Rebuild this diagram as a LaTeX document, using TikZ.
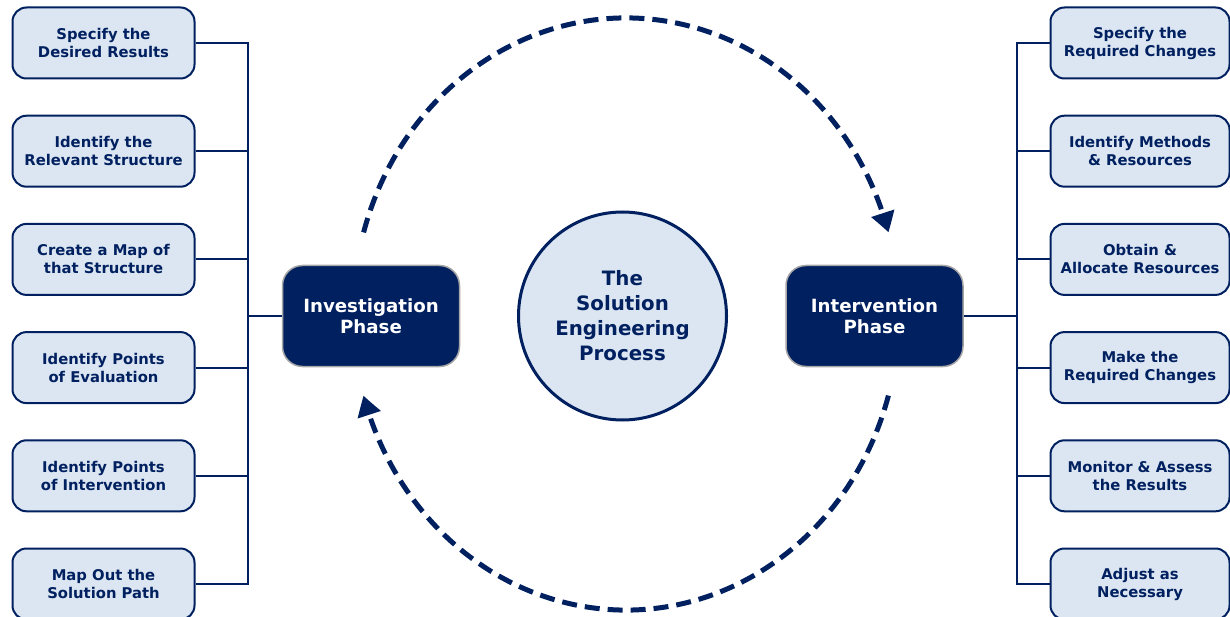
\documentclass[tikz,border=0pt]{standalone}
\usepackage{fontspec}
\setmainfont{DejaVu Sans}
\usetikzlibrary{arrows.meta,bending}
\definecolor{navy}{HTML}{002060}
\definecolor{pale}{HTML}{DCE6F2}
\begin{document}
\begin{tikzpicture}[x=1pt,y=1pt,
  stepbox/.style={draw=navy, line width=2pt, fill=pale, rounded corners=14pt,
    minimum width=182pt, minimum height=71pt, align=center, text=navy,
    font=\fontsize{14.8}{18}\selectfont\bfseries, inner sep=2pt},
  phasebox/.style={draw=gray!70, line width=1.5pt, fill=navy, rounded corners=20pt,
    minimum width=177pt, minimum height=101pt, align=center, text=white,
    font=\fontsize{18.2}{21.5}\selectfont\bfseries},
  hub/.style={circle, draw=navy, line width=3pt, fill=pale, minimum size=208pt,
    align=center, text=navy, font=\fontsize{19.8}{25}\selectfont\bfseries, inner sep=0pt},
  wire/.style={draw=navy, line width=2pt},
  cyclearrow/.style={draw=navy, line width=5pt, dash pattern=on 15pt off 8pt,
    -{Triangle[width=23pt,length=20pt,bend]}}]
\useasboundingbox (0,0) rectangle (1230,-617);

% left steps
\node[stepbox] (L1) at (103.5,-43)   {Specify the\\Desired Results};
\node[stepbox] (L2) at (103.5,-151.2){Identify the\\Relevant Structure};
\node[stepbox] (L3) at (103.5,-259.4){Create a Map of\\that Structure};
\node[stepbox] (L4) at (103.5,-367.6){Identify Points\\of Evaluation};
\node[stepbox] (L5) at (103.5,-475.8){Identify Points\\of Intervention};
\node[stepbox] (L6) at (103.5,-584)  {Map Out the\\Solution Path};

% right steps
\node[stepbox, minimum width=179pt] (R1) at (1140,-43)   {Specify the\\Required Changes};
\node[stepbox, minimum width=179pt] (R2) at (1140,-151.2){Identify Methods\\\& Resources};
\node[stepbox, minimum width=179pt] (R3) at (1140,-259.4){Obtain \&\\Allocate Resources};
\node[stepbox, minimum width=179pt] (R4) at (1140,-367.6){Make the\\Required Changes};
\node[stepbox, minimum width=179pt] (R5) at (1140,-475.8){Monitor \& Assess\\the Results};
\node[stepbox, minimum width=179pt] (R6) at (1140,-584)  {Adjust as\\Necessary};

% phases and hub
\node[phasebox] (inv) at (371,-316) {Investigation\\Phase};
\node[phasebox] (int) at (874.5,-316) {Intervention\\Phase};
\node[hub] (hub) at (622.5,-316) {The\\Solution\\Engineering\\Process};

% left tree
\coordinate (ls) at (248,-316);
\draw[wire] (L1.east) -| (ls) |- (L6.east);
\foreach \n in {L2,L3,L4,L5} \draw[wire] (\n.east) -- (\n.east -| ls);
\draw[wire] (ls) -- (inv.west);

% right tree
\coordinate (rs) at (1017,-316);
\draw[wire] (R1.west) -| (rs) |- (R6.west);
\foreach \n in {R2,R3,R4,R5} \draw[wire] (\n.west) -- (\n.west -| rs);
\draw[wire] (int.east) -- (rs);

% cycle arrows
\coordinate (topstart) at (363.6,-232.4);
\coordinate (botstart) at (888.4,-395.6);
\draw[cyclearrow] (topstart) arc[start angle=164, end angle=16, x radius=273pt, y radius=296pt];
\draw[cyclearrow] (botstart) arc[start angle=-16, end angle=-164, x radius=273pt, y radius=296pt];
\end{tikzpicture}
\end{document}
